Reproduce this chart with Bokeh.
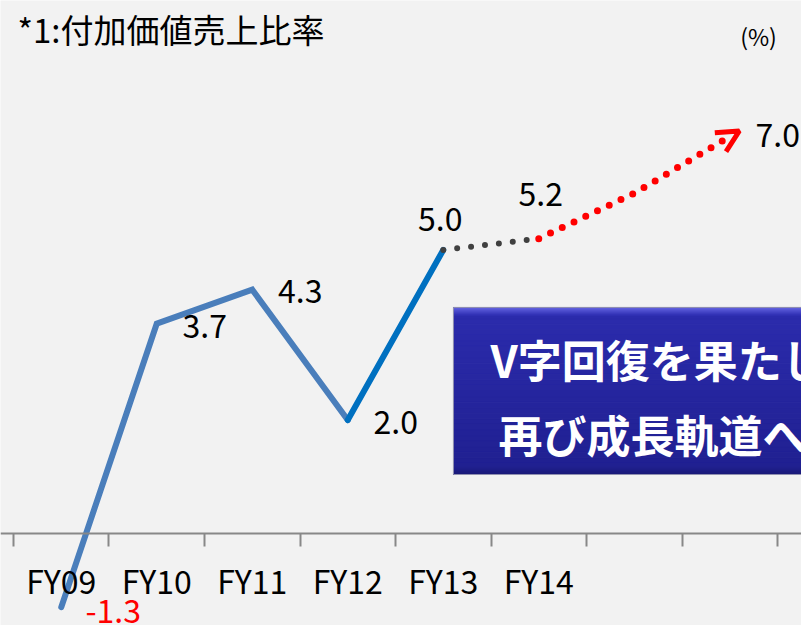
from bokeh.plotting import figure
from bokeh.models import Range1d, LinearAxis, FixedTicker, Arrow, OpenHead, Label, ColumnDataSource
from bokeh.core.properties import value
from bokeh.embed import file_html
from bokeh.resources import INLINE

# ---------------- data ----------------
categories = ["FY09", "FY10", "FY11", "FY12", "FY13", "FY14", "FY15", "FY16"]
tick_labels = ["FY09", "FY10", "FY11", "FY12", "FY13", "FY14"]
past_values = [-1.3, 3.7, 4.3, 2.0]          # FY09..FY12
recovery_values = [2.0, 5.0]                 # FY12..FY13
bridge_values = [5.0, 5.2]                   # FY13..FY14
forecast_values = [5.2, 6.0, 7.0]            # FY14..FY16
label_values = [-1.3, 3.7, 4.3, 2.0, 5.0, 5.2, 7.0]
label_cats = ["FY09", "FY10", "FY11", "FY12", "FY13", "FY14", "FY16"]
title_text = "*1:付加価値売上比率"
unit_text = "(%)"
box_lines = ["V字回復を果たし", "再び成長軌道へ"]

FONT = "Noto Sans CJK JP"
xpos = {c: i + 0.5 for i, c in enumerate(categories)}

W, H = 801, 625
p = figure(width=W, height=H, output_backend="svg", toolbar_location=None,
           x_axis_location=None, y_axis_location=None, min_border=0,
           background_fill_color="#F2F2F2", border_fill_color="#F2F2F2",
           outline_line_color=None)
p.x_range = Range1d(-0.136, 8.251)
p.y_range = Range1d(-1.623, 9.400)
p.xgrid.visible = False
p.ygrid.visible = False

# axis with boundary ticks
ax1 = LinearAxis(fixed_location=0, ticker=FixedTicker(ticks=list(range(len(categories) + 1))),
                 axis_line_color="#888888", axis_line_width=2,
                 major_tick_line_color="#888888", major_tick_line_width=2,
                 major_tick_in=0, major_tick_out=13, minor_tick_line_color=None,
                 major_label_text_alpha=0)
p.add_layout(ax1, "below")
# axis with category labels
ax2 = LinearAxis(fixed_location=0,
                 ticker=FixedTicker(ticks=[xpos[c] for c in tick_labels]),
                 major_label_overrides={xpos[c]: c for c in tick_labels},
                 axis_line_color=None, major_tick_line_color=None, minor_tick_line_color=None,
                 major_label_standoff=18, major_label_text_font=FONT,
                 major_label_text_font_size="32px", major_label_text_color="#000000")
p.add_layout(ax2, "below")

# highlight box (gradient emulated with bands)
box_left, box_right, box_top, box_bottom = 4.607, 8.4, 3.986, 1.040
px_y = 1 / 56.7
def lerp(a, b, t):
    return "#%02x%02x%02x" % tuple(int(a[k] + (b[k] - a[k]) * t) for k in range(3))
n = 30
tops, bots, cols = [], [], []
c0, c1 = (0x2C, 0x2C, 0xAE), (0x20, 0x20, 0x90)
for i in range(n):
    tops.append(box_top - (box_top - box_bottom) * i / n)
    bots.append(box_top - (box_top - box_bottom) * (i + 1) / n)
    cols.append(lerp(c0, c1, i / (n - 1)))
p.quad(left=box_left, right=box_right, top=tops, bottom=bots, fill_color=cols,
       line_color=cols, line_width=1)
# top bevel
nb = 8
bt, bb, bc = [], [], []
for i in range(nb):
    bt.append(box_top - i * px_y)
    bb.append(box_top - (i + 1) * px_y)
    bc.append(lerp((0x74, 0x74, 0xF0), (0x34, 0x34, 0xB8), i / (nb - 1)))
p.quad(left=box_left, right=box_right, top=bt, bottom=bb, fill_color=bc, line_color=None)
# bottom bevel
bt2, bb2, bc2 = [], [], []
for i in range(nb):
    bt2.append(box_bottom + (i + 1) * px_y)
    bb2.append(box_bottom + i * px_y)
    bc2.append(lerp((0x18, 0x18, 0x70), (0x20, 0x20, 0x8E), i / (nb - 1)))
p.quad(left=box_left, right=box_right, top=bt2, bottom=bb2, fill_color=bc2, line_color=None)
p.quad(left=box_left, right=box_right, top=box_top, bottom=box_bottom,
       fill_color=None, line_color="#9090B0", line_width=1)
p.text(x=[box_left, box_left], y=[box_top, box_top], text=box_lines,
       x_offset=[37, 45], y_offset=[52, 127], text_font=value(FONT),
       text_font_size="44px", text_font_style="bold", text_color="white",
       text_baseline="middle", text_align="left")

# lines
p.line([xpos[c] for c in categories[0:4]], past_values, line_color="#4A7EBB",
       line_width=6, line_join="miter", line_cap="round")
p.line([xpos[c] for c in categories[3:5]], recovery_values, line_color="#0070C0",
       line_width=6, line_cap="round")
p.line([xpos[c] for c in categories[4:6]], bridge_values, line_color="#404040",
       line_width=6, line_dash="0 14", line_cap="round")
p.line([xpos[c] for c in categories[5:8]], forecast_values, line_color="#FF0000",
       line_width=7, line_dash="0 13", line_cap="round")
p.add_layout(Arrow(end=OpenHead(line_color="#FF0000", line_width=5, size=22),
                   x_start=xpos["FY15"], y_start=forecast_values[1],
                   x_end=xpos["FY16"] + 0.1, y_end=forecast_values[2] + 0.1,
                   line_alpha=0))

# data labels
lx_off = [52, 48, 48, 48, -3, 2, 48]
ly_off = [4, 2, 1, 2, -31, -45, -2]
lcol = ["#FF0000"] + ["#000000"] * 6
src = ColumnDataSource(dict(x=[xpos[c] for c in label_cats], y=label_values,
                            t=["%.1f" % v for v in label_values],
                            xo=lx_off, yo=ly_off, c=lcol))
p.text(x="x", y="y", text="t", x_offset="xo", y_offset="yo", text_color="c",
       source=src, text_font=value(FONT), text_font_size="32px",
       text_align="center", text_baseline="middle")

p.add_layout(Label(x=17, y=H - 28, x_units="screen", y_units="screen", text=title_text,
                   text_font=FONT, text_font_size="33px", text_color="#000000",
                   text_baseline="middle", text_align="left"))
p.add_layout(Label(x=758, y=H - 35, x_units="screen", y_units="screen", text=unit_text,
                   text_font=FONT, text_font_size="23px", text_color="#000000",
                   text_baseline="middle", text_align="center"))

open("out.html", "w").write(file_html(p, INLINE))
